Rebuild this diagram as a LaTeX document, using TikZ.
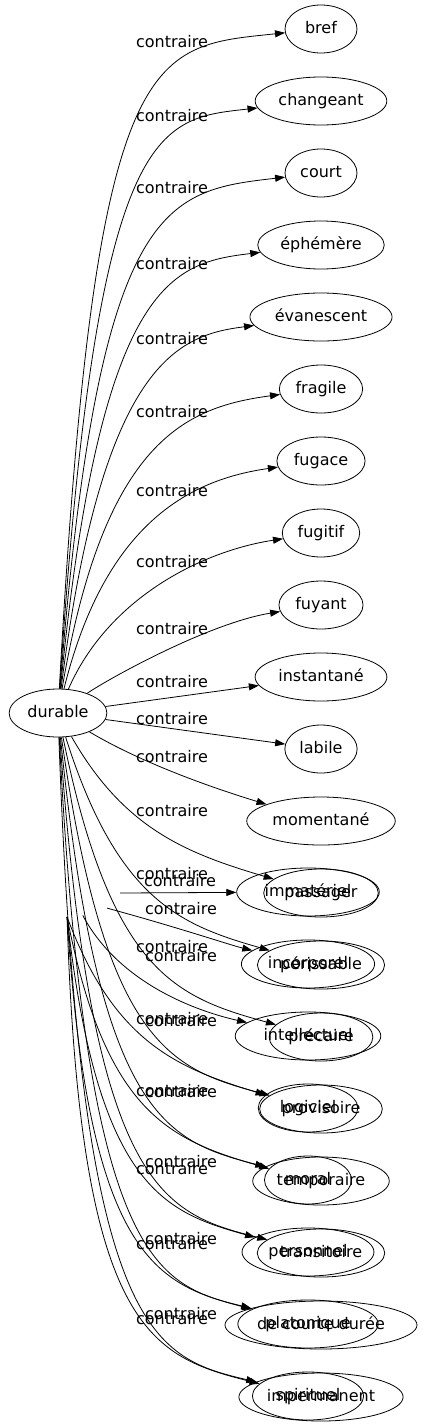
\documentclass[tikz,border=0pt]{standalone}
\usepackage{fontspec}
\setmainfont{DejaVu Sans}
\usetikzlibrary{shapes.geometric, arrows.meta, positioning, calc}
\tikzset{
    word/.style={ellipse, draw, line width=0.8pt, inner xsep=4pt, inner ysep=2pt,
                 text height=12pt, text depth=3.5pt,
                 minimum width=72pt, minimum height=48pt, font=\fontsize{16}{19}\selectfont},
    wordb/.style={word, inner xsep=7pt, minimum width=87pt},
    rel/.style={inner sep=0pt, text height=12pt, text depth=3.5pt, font=\fontsize{16}{19}\selectfont},
    arrow/.style={line width=0.8pt,-{Stealth[length=10pt, width=7pt, inset=0pt]}}
}

\begin{document}
\begin{tikzpicture}[x=1pt, y=-1pt]
    \useasboundingbox (0,0) rectangle (422,1427);

    % Centre
    \node[word] (durable) at (58,713) {durable};
    \coordinate (hub) at (62,893);

    % First list
    \foreach \name/\txt [count=\i from 0] in {bref/bref, changeant/changeant, court/court,
        ephemere/éphémère, evanescent/évanescent, fragile/fragile, fugace/fugace,
        fugitif/fugitif, fuyant/fuyant, instantane/instantané, labile/labile,
        momentane/momentané, passager/passager, perissable/périssable, precaire/précaire,
        provisoire/provisoire, temporaire/temporaire, transitoire/transitoire,
        courteduree/de courte durée, impermanent/impermanent}
        \node[word] (\name) at (321,{29+72*\i}) {\txt};

    % Second list
    \foreach \name/\txt [count=\i from 12] in {immateriel/immatériel, incorporel/incorporel,
        intellectuel/intellectuel, logiciel/logiciel, moral/moral, personnel/personnel,
        platonique/platonique, spirituel/spirituel}
        \node[wordb] (\name) at (308,{28+72*\i}) {\txt};

    % Edges above the centre
    \foreach \name/\ly [count=\i from 0] in {bref/43, changeant/117, court/189, ephemere/265,
        evanescent/340, fragile/413, fugace/492, fugitif/563, fuyant/630} {
        \pgfmathsetmacro{\yy}{29+72*\i}
        \pgfmathsetmacro{\fr}{(660-72*\i)/660}
        \draw[arrow] (durable) .. controls ({112-17*\fr},{\yy+82-71*\fr}) and ({218-68*\fr},{\yy+18}) .. (\name);
        \node[rel] (top\i) at (172,\ly) {contraire};
    }

    % Nearly straight edges
    \draw[arrow] (durable) -- (instantane);
    \node[rel] (near9) at (172,683) {contraire};
    \draw[arrow] (durable) -- (labile);
    \node[rel] (near10) at (172,720) {contraire};

    % Edges below the centre
    \foreach \name/\ly [count=\i from 11] in {momentane/758, passager/812, perissable/875,
        precaire/948, provisoire/1020, temporaire/1092, transitoire/1170,
        courteduree/1245, impermanent/1320} {
        \pgfmathsetmacro{\yy}{29+72*\i}
        \pgfmathsetmacro{\gr}{(\yy-737)/660}
        \draw[arrow] (durable) .. controls ({137-57*\gr},{\yy-65}) and ({196-46*\gr},{\yy-40}) .. (\name);
        \node[rel] (low\i) at (172,\ly) {contraire};
    }

    % Edges of the second list
    \draw[arrow] ([shift={(0:58 and 24)}]hub) -- (immateriel);
    \node[rel] (sec12) at (180,882) {contraire};
    \draw[arrow] ([shift={(39:58 and 24)}]hub) .. controls (180,928) and (230,945) .. (incorporel);
    \node[rel] (sec13) at (181,910) {contraire};
    \draw[arrow] ([shift={(69:58 and 24)}]hub) .. controls (120,985) and (200,1012) .. (intellectuel);
    \node[rel] (sec14) at (181,957) {contraire};
    \foreach \name/\ly [count=\i from 15] in {logiciel/1022, moral/1093, personnel/1163,
        platonique/1240, spirituel/1315} {
        \pgfmathsetmacro{\yy}{28+72*\i}
        \pgfmathsetmacro{\gr}{(\yy-917)/480}
        \draw[arrow] ([shift={(85:58 and 24)}]hub) .. controls ({137-57*\gr},{\yy-65}) and ({196-46*\gr},{\yy-40}) .. (\name);
        \node[rel] (sec\i) at (181,\ly) {contraire};
    }
\end{tikzpicture}
\end{document}
